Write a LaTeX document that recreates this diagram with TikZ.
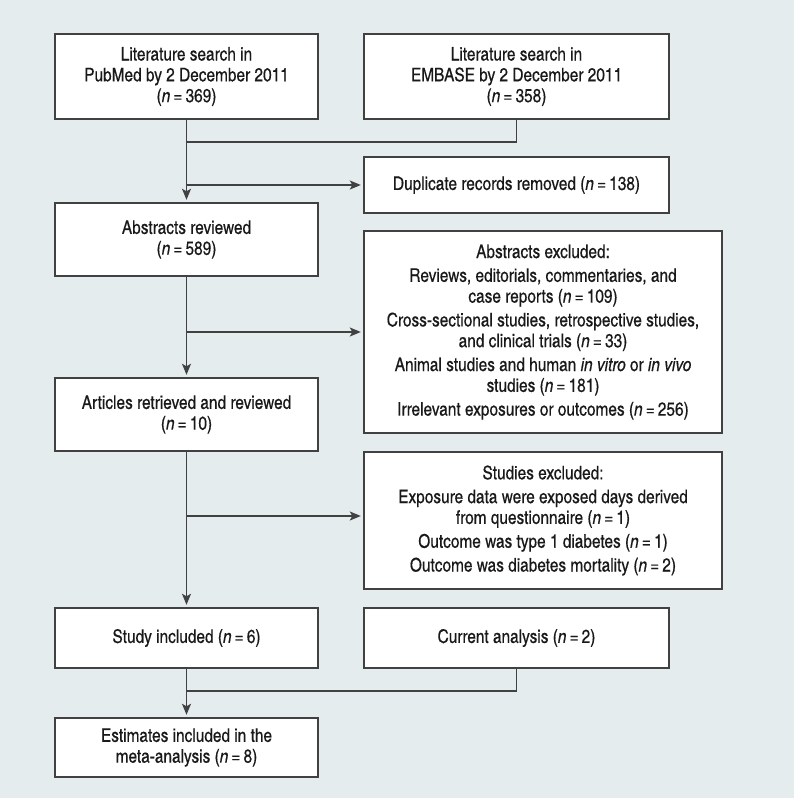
\documentclass[tikz,border=0pt]{standalone}
\usepackage{fontspec}
\setmainfont{texgyreheroscn}[Extension=.otf, UprightFont=*-regular, ItalicFont=*-italic, BoldFont=*-bold, BoldItalicFont=*-bolditalic, FakeBold=0.4]
\usetikzlibrary{arrows.meta}
\definecolor{bgc}{RGB}{229,236,238}
\definecolor{linec}{RGB}{65,65,65}
\newcommand{\nn}[1]{(\textit{n}\,=\,#1)}
\tikzset{
  box/.style={draw=linec, fill=white, line width=1.4pt, align=center, inner sep=0pt,
    font=\fontsize{18.8}{20.8}\selectfont, text=black!90},
  conn/.style={draw=linec, line width=1.4pt},
  arr/.style={conn, -{Stealth[length=11pt,width=9pt,inset=2.5pt]}, shorten >=2.5pt}
}
\begin{document}
\begin{tikzpicture}[x=1pt,y=-1pt]
\useasboundingbox (0,0) rectangle (797,800);
\fill[white] (0,0) rectangle (797,800);
\fill[bgc] (0,0) rectangle (794,798);
\node[box, minimum width=263, minimum height=85] (pub) at (186.5,76.5)
  {Literature search in\\PubMed by 2 December 2011\\\nn{369}};
\node[box, minimum width=305, minimum height=85] (emb) at (516.5,76.5)
  {Literature search in\\EMBASE by 2 December 2011\\\nn{358}};
\node[box, minimum width=305, minimum height=56] (dup) at (516.5,185)
  {Duplicate records removed \nn{138}};
\node[box, minimum width=263, minimum height=73] (abs) at (186.5,239.5)
  {Abstracts reviewed\\\nn{589}};
\node[box, minimum width=358, minimum height=202] (absexc) at (543,332)
  {Abstracts excluded:\\[3pt]
   Reviews, editorials, commentaries, and\\case reports \nn{109}\\[3pt]
   Cross-sectional studies, retrospective studies,\\and clinical trials \nn{33}\\[3pt]
   Animal studies and human \textit{in vitro} or \textit{in vivo}\\studies \nn{181}\\[3pt]
   Irrelevant exposures or outcomes \nn{256}};
\node[box, minimum width=263, minimum height=73] (art) at (186.5,414.5)
  {Articles retrieved and reviewed\\\nn{10}};
\node[box, minimum width=358, minimum height=137] (stuexc) at (543,520.5)
  {Studies excluded:\\[3pt]
   Exposure data were exposed days derived\\from questionnaire \nn{1}\\[3pt]
   Outcome was type 1 diabetes \nn{1}\\[3pt]
   Outcome was diabetes mortality \nn{2}};
\node[box, minimum width=263, minimum height=60] (inc) at (186.5,638)
  {Study included \nn{6}};
\node[box, minimum width=305, minimum height=60] (cur) at (516.5,638)
  {Current analysis \nn{2}};
\node[box, minimum width=263, minimum height=59] (est) at (186.5,747.5)
  {Estimates included in the\\meta-analysis \nn{8}};
\coordinate (y1) at (0,142);
\coordinate (y2) at (0,516);
\coordinate (y3) at (0,691);
\draw[arr] (pub.south) -- (abs.north);
\draw[conn] (emb.south) |- (pub.south |- y1);
\draw[arr] (pub.south |- dup.west) -- (dup.west);
\draw[arr] (abs.south) -- (art.north);
\draw[arr] (abs.south |- absexc.west) -- (absexc.west);
\draw[arr] (art.south) -- (inc.north);
\draw[arr] (art.south |- y2) -- (stuexc.west |- y2);
\draw[arr] (inc.south) -- (est.north);
\draw[conn] (cur.south) |- (inc.south |- y3);
\end{tikzpicture}
\end{document}
